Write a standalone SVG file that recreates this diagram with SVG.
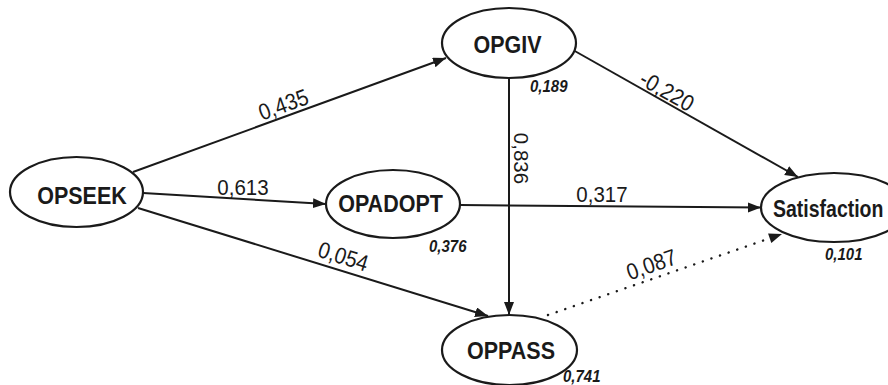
<svg xmlns="http://www.w3.org/2000/svg" width="888" height="385" viewBox="0 0 888 385">
<style>
.node ellipse{fill:#fff;stroke:#1a1a1a;stroke-width:2.2}
.nl{font-family:"Liberation Sans",Arial,sans-serif;font-weight:bold;font-size:21.5px;fill:#1a1a1a}
.coef{font-family:"Liberation Sans",Arial,sans-serif;font-size:20.5px;fill:#1a1a1a;text-anchor:middle}
.r2{font-family:"Liberation Sans",Arial,sans-serif;font-weight:bold;font-style:italic;font-size:15px;fill:#1a1a1a}
.edge{stroke:#1a1a1a;stroke-width:2;fill:none}
.dot{stroke:#1a1a1a;stroke-width:2.4;fill:none;stroke-dasharray:0.1 9;stroke-linecap:round}
</style>
<defs>
<marker id="ah" markerUnits="userSpaceOnUse" markerWidth="14" markerHeight="12" refX="13" refY="5" orient="auto">
<path d="M0,0 L13,5 L0,10 z" fill="#1a1a1a"/>
</marker>
</defs>
<rect width="888" height="385" fill="#fff"/>
<g id="connectors">
<line class="edge" x1="133" y1="172" x2="446" y2="58" marker-end="url(#ah)"/>
<line class="edge" x1="143" y1="193" x2="326" y2="204" marker-end="url(#ah)"/>
<line class="edge" x1="138" y1="208" x2="488" y2="316" marker-end="url(#ah)"/>
<line class="edge" x1="509" y1="78" x2="509" y2="315" marker-end="url(#ah)"/>
<line class="edge" x1="573" y1="50" x2="798" y2="177" marker-end="url(#ah)"/>
<line class="edge" x1="460" y1="205" x2="761" y2="207.5" marker-end="url(#ah)"/>
<line class="dot" x1="548" y1="315" x2="772" y2="237.5"/>
<path d="M0,0 L13,5 L0,10 z" fill="#1a1a1a" transform="translate(782,234) rotate(-19.1) translate(-13,-5)"/>
<text class="coef" transform="translate(286,112) rotate(-20) scale(1,1.12)">0,435</text>
<text class="coef" transform="translate(243,195) scale(1,1.12)">0,613</text>
<text class="coef" transform="translate(341,264) rotate(17.5) scale(1,1.12)">0,054</text>
<text class="coef" transform="translate(514,158.5) rotate(90)">0,836</text>
<text class="coef" transform="translate(663,98) rotate(29.4) scale(1,1.12)">-0,220</text>
<text class="coef" transform="translate(602,202) scale(1,1.12)">0,317</text>
<text class="coef" transform="translate(654,272) rotate(-19.1) scale(1,1.12)">0,087</text>
</g>
<g id="OPSEEK" class="node">
<ellipse cx="76.5" cy="192" rx="66.5" ry="35"/>
<text class="nl" text-anchor="middle" transform="translate(82,203.5) scale(1,1.1)">OPSEEK</text>
</g>
<g id="OPGIV" class="node">
<ellipse cx="509" cy="43" rx="67" ry="35"/>
<text class="nl" text-anchor="middle" transform="translate(507.5,52.5) scale(1,1.1)">OPGIV</text>
<text class="r2" transform="translate(530,92) scale(1,1.15)">0,189</text>
</g>
<g id="OPADOPT" class="node">
<ellipse cx="393" cy="204" rx="67" ry="34"/>
<text class="nl" text-anchor="middle" transform="translate(390.5,211.5) scale(1,1.1)">OPADOPT</text>
<text class="r2" transform="translate(429,252) scale(1,1.15)">0,376</text>
</g>
<g id="OPPASS" class="node">
<ellipse cx="509.5" cy="350" rx="67.5" ry="35"/>
<text class="nl" text-anchor="middle" transform="translate(511,359) scale(1,1.1)">OPPASS</text>
<text class="r2" transform="translate(563,382) scale(1,1.15)">0,741</text>
</g>
<g id="Satisfaction" class="node">
<ellipse cx="834" cy="207.5" rx="73" ry="34.5"/>
<text class="nl" style="font-size:19.5px" transform="translate(773,217) scale(1,1.2)">Satisfaction</text>
<text class="r2" transform="translate(825,260) scale(1,1.15)">0,101</text>
</g>
</svg>
